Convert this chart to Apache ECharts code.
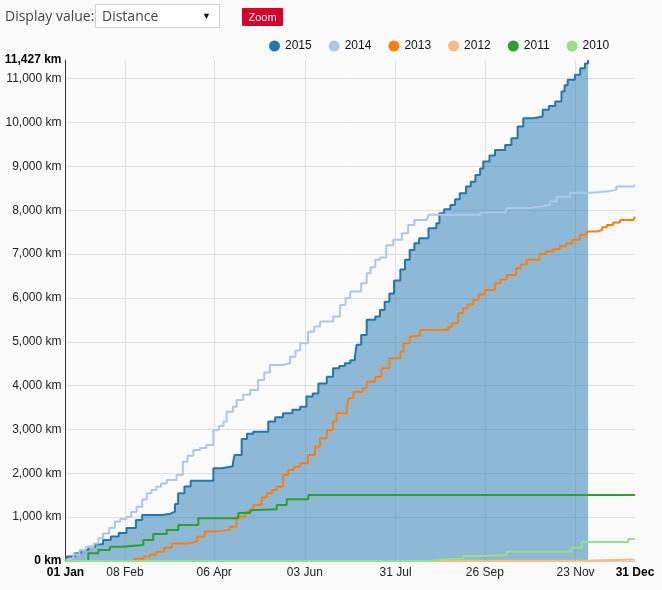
<!DOCTYPE html>
<html><head><meta charset="utf-8">
<script src="https://cdn.jsdelivr.net/npm/echarts@6/dist/echarts.min.js"></script>
<style>
html,body{margin:0;padding:0;background:#fafafa;}
#wrap{position:relative;width:662px;height:590px;overflow:hidden;}
#chart{position:absolute;left:0;top:0;width:662px;height:590px;}
.lbl{position:absolute;left:5px;top:5px;font-family:"Open Sans",sans-serif;font-size:14px;line-height:22px;color:#444;}
#sel{position:absolute;left:95px;top:4px;width:125px;height:24px;border:1px solid #cfcfcf;background:#fff;box-sizing:border-box;font-family:"Open Sans",sans-serif;font-size:14px;line-height:22px;color:#444;padding-left:6px;}
#sel span{position:absolute;right:8px;top:0;font-size:9px;color:#111;}
#zoom{position:absolute;left:242px;top:8px;width:41px;height:18px;background:#d8002a;border-radius:1px;color:#fff;font-family:"Liberation Sans",Arial,sans-serif;font-size:11px;line-height:18px;text-align:center;}
</style></head>
<body>
<div id="wrap">
<div id="chart"></div>
<div class="lbl">Display value:</div>
<div id="sel">Distance<span>&#9660;</span></div>
<div id="zoom">Zoom</div>
</div>
<script>
// ---- data ----
const years = ['2015', '2014', '2013', '2012', '2011', '2010'];
const xTickDays = [0, 38, 95, 153, 211, 268, 326, 364];
const xTickLabels = ['01 Jan', '08 Feb', '06 Apr', '03 Jun', '31 Jul', '26 Sep', '23 Nov', '31 Dec'];
const gridDays = [38, 95, 153, 211, 268, 326];
const yMaxKm = 11427;
const yStepKm = 1000;

const km2015 = [[0,0],[1,100],[6,175],[10,250],[14.6,325],[19,380],[24,480],[29,560],[34,640],[39,750],[45,935],[49,1050],[62,1080],[67,1125],[70,1300],[72,1545],[76,1700],[80,1830],[94.5,2115],[100,2160],[107,2230],[108,2420],[112.6,2780],[116,2900],[120,2950],[129.6,3180],[134,3280],[139,3370],[145,3450],[150,3520],[154,3750],[158,3820],[161.6,4050],[167,4205],[171,4395],[175,4450],[178.6,4510],[182,4580],[185,4660],[186,4930],[189,5155],[192.5,5500],[198,5575],[201,5725],[204,5915],[207,6100],[210,6400],[214,6650],[217,6870],[220,7095],[223,7250],[226,7360],[232,7590],[237,7705],[239,7930],[242,8020],[246,8120],[249,8250],[252,8390],[256,8540],[259,8650],[262,8805],[265,8950],[267,9110],[271,9250],[274.5,9375],[281,9490],[285,9645],[289,9910],[292.6,10100],[299,10140],[305,10290],[309,10380],[313,10480],[317,10710],[319,10850],[321,10975],[325.6,11090],[329,11240],[332,11350],[334,11427]];
const km2014 = [[0,30],[2,70],[5,150],[9,250],[13,320],[18,400],[21,520],[24,630],[28,760],[31.6,900],[35,960],[39,1010],[42,1120],[45.5,1240],[49,1400],[52,1545],[55,1620],[58,1695],[61,1770],[64.7,1850],[71,1960],[75,2265],[78,2400],[81.7,2530],[86,2580],[90,2645],[94.5,2990],[98,3080],[101,3180],[103,3405],[107,3520],[109.4,3675],[113.6,3790],[118,3900],[123,4130],[127,4300],[130.7,4470],[139,4510],[143.5,4660],[147,4800],[150,4965],[155,5230],[159,5350],[162.7,5460],[171,5575],[175.5,5840],[179,6000],[182,6145],[189,6335],[192.5,6565],[195,6700],[198,6870],[201,6920],[205,7200],[209.5,7325],[215,7475],[219,7665],[223,7780],[231,7820],[232,7895],[265,7950],[281,7970],[282,8045],[295,8080],[303,8120],[309.7,8200],[314,8310],[322.5,8400],[335,8425],[346,8465],[352,8540],[363,8580],[364,8580]];
const km2013 = [[0,0],[40,0],[44,50],[50,100],[54,150],[58,210],[63,300],[68,400],[77.5,440],[84,555],[89,670],[96.6,710],[105,780],[109.4,1010],[115,1125],[118,1160],[120,1280],[125.4,1450],[128.6,1545],[132,1620],[135,1695],[139,1960],[142.4,2075],[146,2150],[150,2230],[155,2420],[159.5,2610],[162.7,2800],[167,2990],[171,3180],[173.3,3370],[179.7,3445],[180.8,3710],[184,3860],[190,3940],[192.5,4090],[198,4205],[202,4395],[207,4625],[214,4775],[216,4965],[220,5120],[222,5150],[226.6,5270],[244.7,5340],[247,5420],[251,5650],[254,5765],[257,5850],[260.6,5955],[264,6080],[268,6180],[274.5,6335],[278,6420],[282,6525],[288,6680],[291,6760],[294.7,6870],[303,7005],[307,7060],[311.8,7110],[316,7180],[320,7250],[324,7330],[328.8,7440],[333,7515],[339.5,7550],[343,7610],[346,7665],[350,7720],[354.4,7780],[363,7800],[364,7850]];
const km2012 = [[0,0],[234,10],[336,35],[364,35]];
const km2011 = [[0,0],[14.6,175],[21,250],[28.4,326],[35.9,365],[49.7,480],[56.1,615],[64.7,707],[72.1,820],[84.9,975],[110.4,1095],[118,1160],[119,1180],[135,1278],[141.4,1408],[155.2,1505],[364,1505]];
const km2010 = [[0,0],[231.9,30],[239.4,55],[254,115],[268,135],[282,210],[323.5,305],[330,435],[359.7,500],[364,500]];

// ---- styles ----
const colors = {'2015':'#1f77b4','2014':'#aec7e8','2013':'#ff7f0e','2012':'#ffbb78','2011':'#2ca02c','2010':'#98df8a'};
const seriesData = {'2015':km2015,'2014':km2014,'2013':km2013,'2012':km2012,'2011':km2011,'2010':km2010};
const font = '"Liberation Sans", Arial, sans-serif';

function fmtKm(v) { return Math.round(v).toLocaleString('en-US') + ' km'; }

const chart = echarts.init(document.getElementById('chart'), null, {renderer: 'canvas'});

const series = [{
  type: 'line', name: '_grid', data: [], z: 0, silent: true,
  markLine: {
    z: 0, zlevel: 0,
    silent: true, symbol: 'none', label: {show: false},
    lineStyle: {color: '#e0e0e0', width: 1, type: 'solid'},
    emphasis: {disabled: true},
    data: gridDays.map(d => ({xAxis: d}))
  }
}];
years.forEach(y => {
  const s = {
    type: 'line', name: y, data: seriesData[y], step: 'end',
    showSymbol: false, symbol: 'none',
    lineStyle: {color: colors[y], width: 2},
    itemStyle: {color: colors[y]},
    z: y === '2015' ? 2 : 3
  };
  if (y === '2015') s.areaStyle = {color: colors[y], opacity: 0.5};
  series.push(s);
});

chart.setOption({
  animation: false,
  backgroundColor: '#fafafa',
  textStyle: {fontFamily: font},
  legend: {
    data: years.map(y => ({name: y, itemStyle: {color: colors[y]}})),
    left: 264, top: 35, icon: 'circle', itemWidth: 11, itemHeight: 11, itemGap: 17,
    textStyle: {fontSize: 12, color: '#111', fontFamily: font}
  },
  grid: {left: 65.5, right: 27, top: 60, bottom: 29, containLabel: false},
  xAxis: {
    type: 'value', min: 0, max: 364,
    axisLine: {show: true, lineStyle: {color: '#cccccc'}},
    axisTick: {show: false},
    splitLine: {show: false},
    axisLabel: {
      customValues: xTickDays,
      margin: 6, fontSize: 12, color: '#222', fontFamily: font,
      formatter: function (v) {
        const i = xTickDays.indexOf(v);
        const t = i >= 0 ? xTickLabels[i] : '';
        return (i === 0 || i === xTickDays.length - 1) ? '{b|' + t + '}' : t;
      },
      rich: {b: {fontWeight: 'bold', color: '#000', fontSize: 12, fontFamily: font}}
    }
  },
  yAxis: {
    type: 'value', min: 0, max: yMaxKm, interval: yStepKm,
    axisLine: {show: true, lineStyle: {color: '#333', width: 1}},
    axisTick: {show: false},
    splitLine: {show: true, showMaxLine: false, lineStyle: {color: '#e0e0e0'}},
    axisLabel: {
      margin: 4, fontSize: 12, color: '#222', fontFamily: font,
      formatter: function (v) {
        const t = fmtKm(v);
        return (v === 0 || v === yMaxKm) ? '{b|' + t + '}' : t;
      },
      rich: {b: {fontWeight: 'bold', color: '#000', fontSize: 12, fontFamily: font}}
    }
  },
  series: series
});
</script>
</body></html>
